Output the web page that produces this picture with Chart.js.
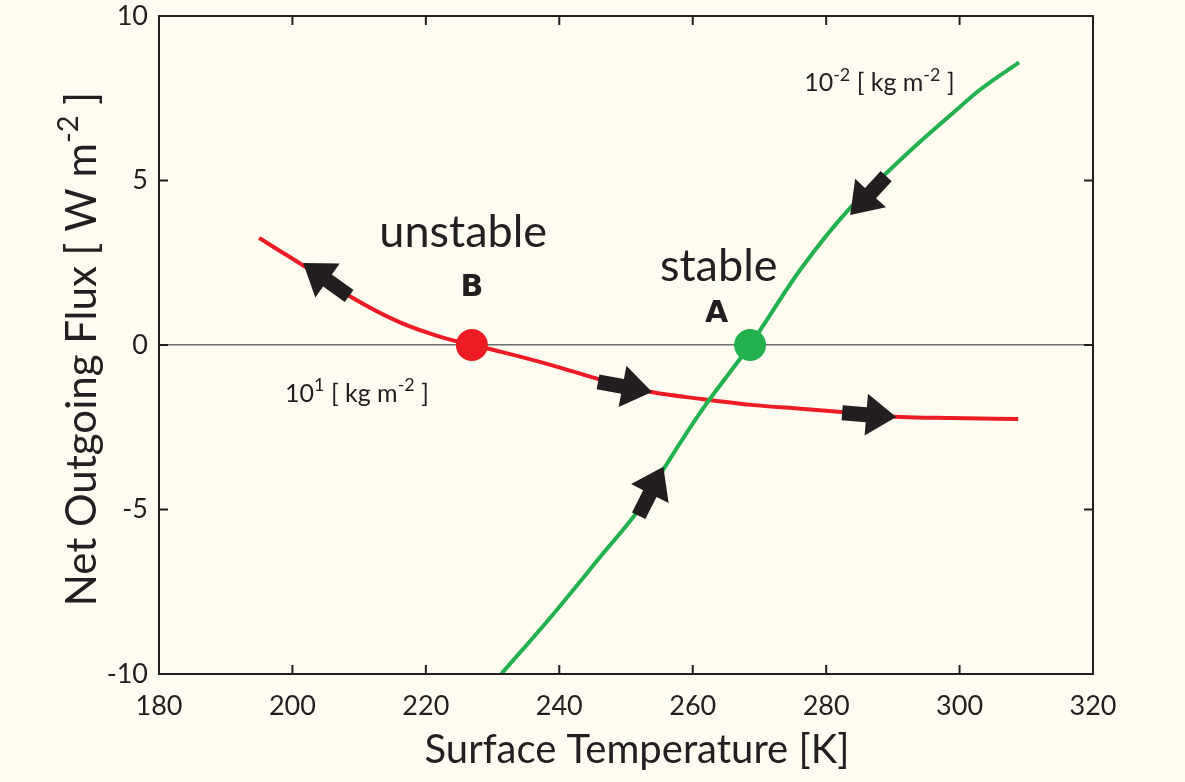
<!DOCTYPE html>
<html>
<head>
<meta charset="utf-8">
<script src="https://cdn.jsdelivr.net/npm/chart.js@4.4.1/dist/chart.umd.min.js"></script>
<style>
  html, body { margin: 0; padding: 0; background: #fefcf0; }
  canvas { display: block; }
</style>
</head>
<body>
<canvas id="c" width="1185" height="782"></canvas>
<script>
// ---- Data ----
const xTicks = [180, 200, 220, 240, 260, 280, 300, 320];
const yTicks = [-10, -5, 0, 5, 10];

// 10^1 kg m^-2 curve (red)
const redT = [195.0, 201.3, 208.8, 216.3, 222.3, 226.9, 231.3, 238.8, 246.3, 253.8, 261.3, 268.8, 276.2, 283.7, 291.2, 298.7, 308.8];
const redF = [3.25, 2.46, 1.46, 0.67, 0.24, 0.0, -0.21, -0.61, -1.06, -1.43, -1.64, -1.82, -1.94, -2.06, -2.19, -2.22, -2.25];

// 10^-2 kg m^-2 curve (green)
const greenT = [231.3, 238.8, 246.3, 252.3, 255.7, 261.3, 268.6, 276.2, 283.7, 289.0, 294.2, 298.7, 303.2, 308.9];
const greenF = [-10.0, -8.25, -6.40, -4.90, -3.75, -2.0, 0.0, 2.31, 4.19, 5.22, 6.20, 7.00, 7.78, 8.59];

// equilibrium points
const pointB = [226.9, 0];
const pointA = [268.6, 0];

// arrows: [tailT, tailF, tipT, tipF]
const arrows = [
  [208.5, 1.49, 201.6, 2.49],
  [245.8, -1.12, 253.9, -1.43],
  [282.4, -2.06, 290.5, -2.19],
  [289.0, 5.13, 283.6, 3.95],
  [251.9, -5.19, 255.6, -3.70]
];

const ink = '#231f20';
const bg = '#fefcf0';
const red = '#ed1c24';
const green = '#22b14c';

function toXY(ts, fs) { return ts.map((t, i) => ({x: t, y: fs[i]})); }

function drawRich(ctx, parts, x, y, size, family) {
  let cx = x;
  parts.forEach(p => {
    if (p.sup) {
      ctx.font = `${Math.round(size * 0.7)}px ${family}`;
      ctx.fillText(p.t, cx, y - size * 0.42);
    } else {
      ctx.font = `${size}px ${family}`;
      ctx.fillText(p.t, cx, y);
    }
    cx += ctx.measureText(p.t).width;
  });
  return cx - x;
}
function richWidth(ctx, parts, size, family) {
  let w = 0;
  parts.forEach(p => {
    ctx.font = p.sup ? `${Math.round(size * 0.7)}px ${family}` : `${size}px ${family}`;
    w += ctx.measureText(p.t).width;
  });
  return w;
}

function drawArrow(ctx, x1, y1, x2, y2) {
  const ang = Math.atan2(y2 - y1, x2 - x1);
  const len = Math.hypot(x2 - x1, y2 - y1);
  const sw = 15, hw = 42, hl = 30;
  ctx.save();
  ctx.translate(x1, y1);
  ctx.rotate(ang);
  ctx.beginPath();
  ctx.moveTo(0, -sw / 2);
  ctx.lineTo(len - hl, -sw / 2);
  ctx.lineTo(len - hl, -hw / 2);
  ctx.lineTo(len, 0);
  ctx.lineTo(len - hl, hw / 2);
  ctx.lineTo(len - hl, sw / 2);
  ctx.lineTo(0, sw / 2);
  ctx.closePath();
  ctx.fillStyle = ink;
  ctx.fill();
  ctx.restore();
}

const FONT = 'Lato, "Open Sans", sans-serif';

const decor = {
  id: 'decor',
  beforeDraw(chart) {
    const ctx = chart.ctx;
    ctx.save();
    ctx.fillStyle = bg;
    ctx.fillRect(0, 0, chart.width, chart.height);
    ctx.restore();
  },
  afterDatasetsDraw(chart) {
    const ctx = chart.ctx;
    const xs = chart.scales.x, ys = chart.scales.y;
    const a = chart.chartArea;
    ctx.save();
    arrows.forEach(r => {
      drawArrow(ctx, xs.getPixelForValue(r[0]), ys.getPixelForValue(r[1]),
                     xs.getPixelForValue(r[2]), ys.getPixelForValue(r[3]));
    });
    ctx.strokeStyle = ink;
    ctx.lineWidth = 2;
    ctx.strokeRect(a.left, a.top, a.right - a.left, a.bottom - a.top);
    const tl = 9;
    ctx.beginPath();
    xTicks.forEach(v => {
      const px = xs.getPixelForValue(v);
      ctx.moveTo(px, a.bottom); ctx.lineTo(px, a.bottom - tl);
      ctx.moveTo(px, a.top); ctx.lineTo(px, a.top + tl);
    });
    yTicks.forEach(v => {
      const py = ys.getPixelForValue(v);
      ctx.moveTo(a.left, py); ctx.lineTo(a.left + tl, py);
      ctx.moveTo(a.right, py); ctx.lineTo(a.right - tl, py);
    });
    ctx.stroke();

    ctx.fillStyle = ink;
    ctx.textBaseline = 'alphabetic';
    ctx.textAlign = 'center';
    ctx.font = `45px ${FONT}`;
    ctx.fillText('unstable', xs.getPixelForValue(225.6), ys.getPixelForValue(2.97));
    ctx.fillText('stable', xs.getPixelForValue(263.9), ys.getPixelForValue(1.94));
    ctx.font = `bold 30px "DejaVu Sans", sans-serif`;
    ctx.fillText('B', xs.getPixelForValue(226.9), ys.getPixelForValue(1.49));
    ctx.fillText('A', xs.getPixelForValue(263.6), ys.getPixelForValue(0.70));

    ctx.textAlign = 'left';
    drawRich(ctx, [{t:'10'},{t:'-2',sup:true},{t:' [ kg m'},{t:'-2',sup:true},{t:' ]'}],
      xs.getPixelForValue(276.7), ys.getPixelForValue(7.71), 25, FONT);
    drawRich(ctx, [{t:'10'},{t:'1',sup:true},{t:' [ kg m'},{t:'-2',sup:true},{t:' ]'}],
      xs.getPixelForValue(198.9), ys.getPixelForValue(-1.72), 25, FONT);

    ctx.font = `40px ${FONT}`;
    ctx.textAlign = 'center';
    ctx.fillText('Surface Temperature [K]', (a.left + a.right) / 2 + 11, 763);

    const yParts = [{t:'Net Outgoing Flux [ W m'},{t:'-2',sup:true},{t:' ]'}];
    const w = richWidth(ctx, yParts, 42, FONT);
    ctx.save();
    ctx.translate(96, (a.top + a.bottom) / 2 + 4);
    ctx.rotate(-Math.PI / 2);
    ctx.textAlign = 'left';
    drawRich(ctx, yParts, -w / 2, 0, 42, FONT);
    ctx.restore();
    ctx.restore();
  }
};

new Chart(document.getElementById('c'), {
  type: 'scatter',
  data: {
    datasets: [
      { data: [{x: pointB[0], y: pointB[1]}], pointRadius: 16, pointHoverRadius: 16,
        backgroundColor: red, borderColor: red, borderWidth: 0, order: 0 },
      { data: [{x: pointA[0], y: pointA[1]}], pointRadius: 16, pointHoverRadius: 16,
        backgroundColor: green, borderColor: green, borderWidth: 0, order: 0 },
      { data: toXY(greenT, greenF), showLine: true, borderColor: green, borderWidth: 4,
        pointRadius: 0, cubicInterpolationMode: 'monotone', order: 1 },
      { data: toXY(redT, redF), showLine: true, borderColor: red, borderWidth: 4,
        pointRadius: 0, cubicInterpolationMode: 'monotone', order: 2 }
    ]
  },
  options: {
    responsive: false,
    animation: false,
    layout: { padding: { top: 16, right: 92, left: 0, bottom: 0 } },
    plugins: { legend: { display: false }, tooltip: { enabled: false } },
    scales: {
      x: {
        type: 'linear', min: 180, max: 320,
        afterBuildTicks: s => { s.ticks = xTicks.map(v => ({value: v})); },
        afterFit: s => { s.height = 108; s.paddingLeft = 0; s.paddingRight = 0; },
        grid: { display: false, drawTicks: false },
        border: { display: false },
        ticks: { color: ink, font: { family: FONT, size: 27 }, padding: 16, maxRotation: 0 }
      },
      y: {
        type: 'linear', min: -10, max: 10,
        afterBuildTicks: s => { s.ticks = yTicks.map(v => ({value: v})); },
        afterFit: s => { s.width = 159; s.paddingTop = 0; s.paddingBottom = 0; },
        grid: { drawTicks: false, lineWidth: 1.5,
                color: c => (c.tick && c.tick.value === 0) ? '#6d6e71' : 'rgba(0,0,0,0)' },
        border: { display: false },
        ticks: { color: ink, font: { family: FONT, size: 27 }, padding: 11 }
      }
    }
  },
  plugins: [decor]
});
</script>
</body>
</html>
